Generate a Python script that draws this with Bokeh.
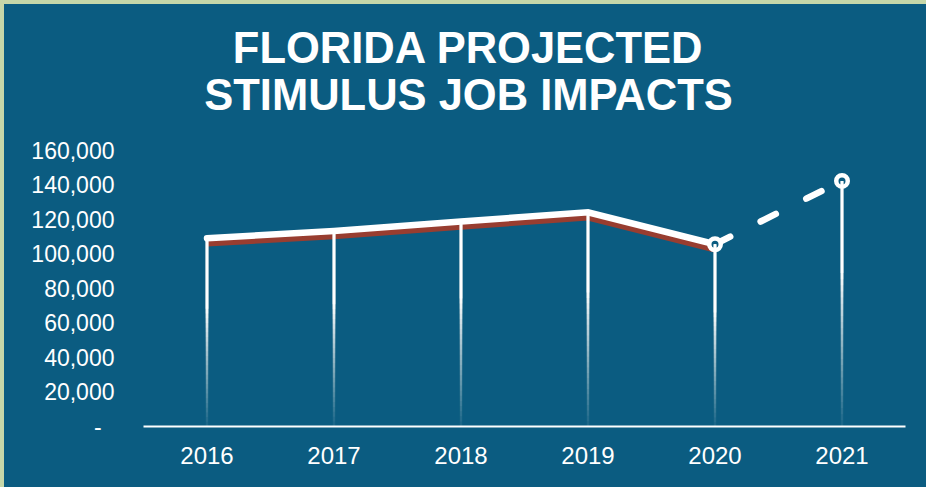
from bokeh.plotting import figure
from bokeh.models import FactorRange, Range1d, Label, FixedTicker, GlobalInlineStyleSheet
from bokeh.embed import file_html
from bokeh.resources import INLINE

# ---- data ----
years = ["2016", "2017", "2018", "2019", "2020", "2021"]
jobs = [109300, 113500, 119000, 124400, 105800, 142600]
actual_count = 5          # 2016-2020 solid, 2020-2021 projected (dashed)
y_ticks = [0, 20000, 40000, 60000, 80000, 100000, 120000, 140000, 160000]
y_tick_labels = ["-\u00a0\u00a0", "20,000", "40,000", "60,000", "80,000",
                 "100,000", "120,000", "140,000", "160,000"]
title_lines = ["FLORIDA PROJECTED", "STIMULUS JOB IMPACTS"]

# ---- style ----
BG = "#0b5c81"
PAGE = "#c6d7a9"
RED = "#983d30"
WHITE = "#ffffff"
FONT = "Liberation Sans"

Y_END = 245000
FRAME_H = 422
FRAME_W = 762

p = figure(x_range=FactorRange(*years, range_padding=0),
           y_range=Range1d(0, Y_END),
           frame_width=FRAME_W, frame_height=FRAME_H,
           min_border_left=139, min_border_right=21,
           min_border_top=0, min_border_bottom=61,
           output_backend="svg", toolbar_location=None)
p.stylesheets = [GlobalInlineStyleSheet(
    css=f"html, body {{margin:0; padding:0; background:{PAGE};}} body {{padding:4px 0 0 4px;}}")]
p.styles = {"background-color": BG}

p.background_fill_alpha = 0
p.border_fill_alpha = 0
p.outline_line_color = None
p.xgrid.grid_line_color = None
p.ygrid.grid_line_color = None

# axes
p.xaxis.axis_line_color = WHITE
p.xaxis.axis_line_width = 2
p.xaxis.major_tick_line_color = None
p.xaxis.minor_tick_line_color = None
p.xaxis.major_label_text_color = WHITE
p.xaxis.major_label_text_font = FONT
p.xaxis.major_label_text_font_size = "24px"
p.xaxis.major_label_standoff = 14

p.yaxis.axis_line_color = None
p.yaxis.major_tick_line_color = None
p.yaxis.minor_tick_line_color = None
p.yaxis.ticker = FixedTicker(ticks=y_ticks)
p.yaxis.major_label_overrides = dict(zip(y_ticks, y_tick_labels))
p.yaxis.major_label_text_color = WHITE
p.yaxis.major_label_text_font = FONT
p.yaxis.major_label_text_font_size = "23px"
p.yaxis.major_label_standoff = 23

# shadow offset (pixels -> data units)
px = Y_END / FRAME_H
shadow = [v - 5 * px for v in jobs[:actual_count]]

# red shadow line
p.line(years[:actual_count], shadow, line_color=RED, line_width=6.5,
       line_join="miter")
# solid white line
p.line(years[:actual_count], jobs[:actual_count], line_color=WHITE, line_width=6.5,
       line_cap="round", line_join="miter")
# dashed projection
p.line(years[actual_count - 1:], jobs[actual_count - 1:], line_color=WHITE,
       line_width=6.5, line_dash="17 34", line_cap="round")
# markers on the projected points
p.scatter(years[actual_count - 1:], jobs[actual_count - 1:], size=11.5,
          fill_color=BG, line_color=WHITE, line_width=4.5)

# drop lines with fading gradient (white at top -> transparent at baseline),
# built from stacked overlapping segments (no seams)
K = 40


def target_alpha(f):
    return min(1.0, 0.05 + 1.5 * f)


x0s, y0s, y1s, alphas = [], [], [], []
for yr, v in zip(years, jobs):
    prev = 0.0
    for k in range(K):
        f_lo = k / K
        A = target_alpha((k + 0.5) / K)
        a = 1.0 if A >= 1.0 else 1.0 - (1.0 - A) / (1.0 - prev)
        prev = A
        if a <= 0:
            continue
        x0s.append(yr)
        y0s.append(v * f_lo)
        y1s.append(v)
        alphas.append(a)
        if A >= 1.0:
            break
p.segment(x0=x0s, y0=y0s, x1=x0s, y1=y1s, line_color=WHITE, line_width=2.5,
          line_alpha=alphas)

# titles (screen units relative to frame bottom-left)
p.add_layout(Label(x=325, y=378.5, x_units="screen", y_units="screen",
                   text=title_lines[0], text_align="center", text_baseline="alphabetic",
                   text_color=WHITE, text_font=FONT, text_font_style="bold",
                   text_font_size="43.5px"))
p.add_layout(Label(x=325, y=331.5, x_units="screen", y_units="screen",
                   text=title_lines[1], text_align="center", text_baseline="alphabetic",
                   text_color=WHITE, text_font=FONT, text_font_style="bold",
                   text_font_size="43.5px"))

open("out.html", "w").write(file_html(p, INLINE))
